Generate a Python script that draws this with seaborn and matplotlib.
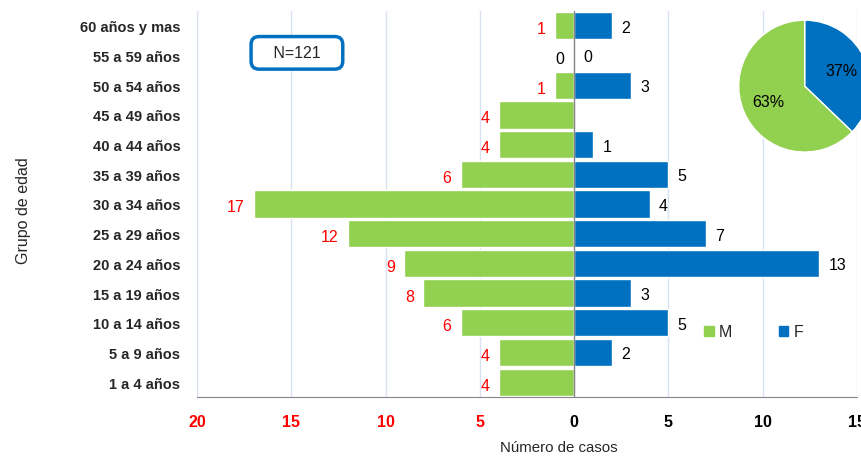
import numpy as np
import pandas as pd
import matplotlib.pyplot as plt
import matplotlib.patches as mpatches
import seaborn as sns

grupos = ['60 años y mas', '55 a 59 años', '50 a 54 años', '45 a 49 años',
          '40 a 44 años', '35 a 39 años', '30 a 34 años', '25 a 29 años',
          '20 a 24 años', '15 a 19 años', '10 a 14 años', '5 a 9 años',
          '1 a 4 años']
masculino = [1, 0, 1, 4, 4, 6, 17, 12, 9, 8, 6, 4, 4]
femenino = [2, 0, 3, np.nan, 1, 5, 4, 7, 13, 3, 5, 2, np.nan]
xticks = [-20, -15, -10, -5, 0, 5, 10, 15]
xtick_labels = ['20', '15', '10', '5', '0', '5', '10', '15']

verde = '#92d050'
azul = '#0070c0'
rojo = '#ff0000'

sns.set_style('white')
plt.rcParams['font.family'] = ['Liberation Sans', 'DejaVu Sans']

df = pd.DataFrame({'grupo': grupos, 'M': masculino, 'F': femenino})
df['M_neg'] = -df['M']

fig = plt.figure(figsize=(8.62, 4.64), dpi=100)
ax = fig.add_axes([0.2285, 0.1422, 0.7657, 0.832])

sns.barplot(data=df, x='M_neg', y='grupo', color=verde, orient='h',
            width=0.92, saturation=1, ax=ax)
sns.barplot(data=df.fillna(0), x='F', y='grupo', color=azul, orient='h',
            width=0.92, saturation=1, ax=ax)

ax.set_xlim(-20, 15)
ax.set_ylim(len(grupos) - 0.5, -0.5)
ax.set_xticks(xticks)
ax.set_xticklabels(xtick_labels, fontweight='bold', fontsize=11.5)
for lab, v in zip(ax.get_xticklabels(), xticks):
    lab.set_color(rojo if v < 0 else 'black')
ax.tick_params(axis='x', length=5, color='#868686', width=1, pad=7)
ax.tick_params(axis='y', length=0, pad=12)
ax.set_yticks(range(len(grupos)))
ax.set_yticklabels(grupos, fontweight='bold', fontsize=10.5)

ax.grid(axis='x', color='#d9e2f3', linewidth=1)
ax.set_axisbelow(True)
for s in ['top', 'right']:
    ax.spines[s].set_visible(False)
ax.spines['left'].set_color('#d9e2f3')
ax.spines['bottom'].set_color('#868686')
ax.axvline(0, color='#868686', linewidth=1)
ax.set_xlabel('')
ax.set_ylabel('')

for i, (m, f) in enumerate(zip(masculino, femenino)):
    ax.text(-m - 0.5, i + 0.1, str(m), ha='right', va='center', fontsize=11.5,
            color=rojo if m > 0 else 'black')
    if not np.isnan(f):
        ax.text(f + 0.5, i + 0.05, str(int(f)), ha='left', va='center',
                fontsize=11.5, color='black')

ax.text(-14.7, 0.91, '   N=121   ', ha='center', va='center', fontsize=11.5,
        bbox=dict(boxstyle='round,pad=0.55,rounding_size=0.5', fc='white',
                  ec=azul, lw=2.5))

fig.text(0.027, 0.547, 'Grupo de edad', rotation=90, ha='center', va='center',
         fontsize=11.5)
fig.text(0.6485, 0.019, 'Número de casos', ha='center', va='bottom',
         fontsize=10.8)

leg_handles = [mpatches.Patch(color=verde, label='M'),
               mpatches.Patch(color=azul, label='F')]
fig.legend(handles=leg_handles, loc='center left',
           bbox_to_anchor=(0.8167, 1 - 333 / 464), ncol=2, frameon=False,
           handlelength=0.6, handleheight=0.6, handletextpad=0.35,
           columnspacing=2.9, fontsize=11.5, borderpad=0, borderaxespad=0)

pax = fig.add_axes([0.857, 0.670, 0.153, 0.2845])
pax.pie([sum(f for f in femenino if not np.isnan(f)), sum(masculino)],
        colors=[azul, verde], startangle=90, counterclock=False,
        autopct='%1.0f%%', pctdistance=0.6,
        wedgeprops=dict(edgecolor='white', linewidth=1),
        textprops=dict(fontsize=11.5, color='black'))
pax.set_xlim(-1, 1)
pax.set_ylim(-1, 1)
pax.set_aspect('equal')

fig.savefig('out.png', dpi=100)
